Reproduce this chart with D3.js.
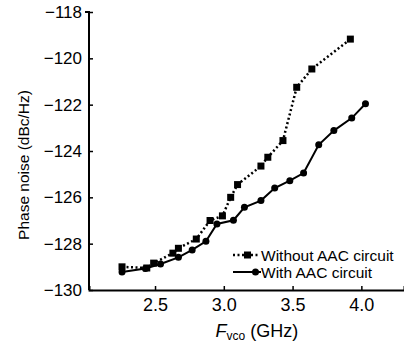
<!DOCTYPE html>
<html>
<head>
<meta charset="utf-8">
<script src="https://cdn.jsdelivr.net/npm/d3@7"></script>
<style>
  body { margin: 0; background: #fff; }
  text { font-family: "Liberation Sans", Arial, sans-serif; fill: #000; }
</style>
</head>
<body>
<script>
// data
var withoutF = [2.26, 2.44, 2.49, 2.63, 2.67, 2.80, 2.90, 2.99, 3.05, 3.10, 3.27, 3.32, 3.43, 3.53, 3.64, 3.92];
var withoutPN = [-129.0, -129.05, -128.84, -128.41, -128.2, -127.8, -127.0, -126.8, -126.0, -125.45, -124.65, -124.27, -123.55, -121.25, -120.46, -119.17];
var withF = [2.26, 2.43, 2.54, 2.67, 2.77, 2.87, 2.95, 3.07, 3.15, 3.27, 3.37, 3.48, 3.58, 3.69, 3.80, 3.93, 4.03];
var withPN = [-129.22, -129.07, -128.88, -128.59, -128.27, -127.9, -127.15, -126.99, -126.43, -126.14, -125.6, -125.28, -124.95, -123.73, -123.12, -122.58, -121.96];
var xTicks = [2.5, 3.0, 3.5, 4.0];
var yTicks = [-130, -128, -126, -124, -122, -120, -118];
var legendNames = ["Without AAC circuit", "With AAC circuit"];

var W = 404, H = 347;
var margin = {left: 89, top: 12, right: 0, bottom: 57};

var x = d3.scaleLinear().domain([2.02, 4.31]).range([margin.left, W]);
var y = d3.scaleLinear().domain([-130, -118]).range([H - margin.bottom, margin.top]);

var svg = d3.select("body").append("svg")
    .attr("width", W)
    .attr("height", H);

// axes
var yAxis = svg.append("g")
    .attr("transform", "translate(" + margin.left + ",0)")
    .call(d3.axisLeft(y).tickValues(yTicks).tickSize(-4).tickPadding(7)
      .tickFormat(function(d) { return "\u2212" + Math.abs(d); }));
var xAxis = svg.append("g")
    .attr("transform", "translate(0," + (H - margin.bottom) + ")")
    .call(d3.axisBottom(x).tickValues(xTicks).tickSize(-4).tickPadding(8)
      .tickFormat(d3.format(".1f")));

[xAxis, yAxis].forEach(function(a) {
  a.select(".domain").attr("stroke", "#000").attr("stroke-width", 2);
  a.selectAll(".tick line").attr("stroke", "#000").attr("stroke-width", 1.5);
  a.selectAll("text").attr("fill", "#000")
    .style("font-family", "'Liberation Sans', Arial, sans-serif");
});
yAxis.selectAll("text").style("font-size", "17px");
xAxis.selectAll("text").style("font-size", "18px");
yAxis.select(".domain").attr("d", "M-4," + y(-118) + "H0V" + y(-130));

// axis titles
svg.append("text")
    .attr("transform", "translate(29," + (y(-124) + 14) + ") rotate(-90)")
    .attr("text-anchor", "middle")
    .style("font-size", "15.5px")
    .text("Phase noise (dBc/Hz)");

var xl = svg.append("text")
    .attr("x", x(3.24))
    .attr("y", 337)
    .attr("text-anchor", "middle")
    .style("font-size", "18px");
xl.append("tspan").style("font-style", "italic").text("F");
xl.append("tspan").attr("dy", 3).style("font-size", "12px").text("vco");
xl.append("tspan").attr("dy", -3).text(" (GHz)");

var line = d3.line()
    .x(function(d) { return x(d[0]); })
    .y(function(d) { return y(d[1]); });

var withoutData = d3.zip(withoutF, withoutPN);
var withData = d3.zip(withF, withPN);

svg.append("path")
    .datum(withoutData)
    .attr("d", line)
    .attr("fill", "none")
    .attr("stroke", "#000")
    .attr("stroke-width", 2.5)
    .attr("stroke-dasharray", "2,2.5");

svg.append("path")
    .datum(withData)
    .attr("d", line)
    .attr("fill", "none")
    .attr("stroke", "#000")
    .attr("stroke-width", 2);

svg.selectAll(".sq").data(withoutData).enter().append("rect")
    .attr("x", function(d) { return x(d[0]) - 3.5; })
    .attr("y", function(d) { return y(d[1]) - 3.5; })
    .attr("width", 7).attr("height", 7)
    .attr("fill", "#000");

svg.selectAll(".ci").data(withData).enter().append("circle")
    .attr("cx", function(d) { return x(d[0]); })
    .attr("cy", function(d) { return y(d[1]); })
    .attr("r", 3.5)
    .attr("fill", "#000");

// legend
var lg = svg.append("g").attr("transform", "translate(233,255)");
lg.append("line").attr("x1", 0).attr("x2", 26).attr("y1", 0).attr("y2", 0)
    .attr("stroke", "#000").attr("stroke-width", 2.5).attr("stroke-dasharray", "2,2.5");
lg.append("rect").attr("x", 11).attr("y", -3.5).attr("width", 7).attr("height", 7).attr("fill", "#000");
lg.append("text").attr("x", 28).attr("y", 5.5).style("font-size", "15.5px").text(legendNames[0]);
lg.append("line").attr("x1", 0).attr("x2", 28).attr("y1", 17).attr("y2", 17)
    .attr("stroke", "#000").attr("stroke-width", 2);
lg.append("circle").attr("cx", 22.5).attr("cy", 17).attr("r", 3.5).attr("fill", "#000");
lg.append("text").attr("x", 28).attr("y", 22.5).style("font-size", "15.5px").text(legendNames[1]);
</script>
</body>
</html>
